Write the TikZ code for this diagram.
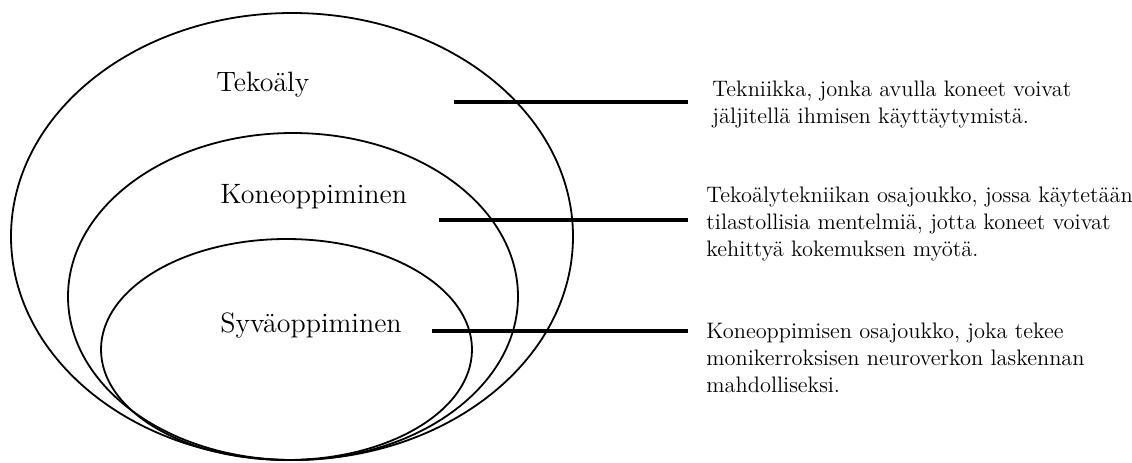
\documentclass[tikz,border=0pt]{standalone}
\usepackage{fontspec}
\usepackage{tikz}
\usetikzlibrary{positioning}
\tikzset{
    setlabel/.style={
        font=\fontsize{14}{16}\selectfont, inner sep=0pt, anchor=base west
    },
    desctext/.style={
        font=\fontsize{11.2}{13.4}\selectfont, align=left, inner sep=0pt, anchor=north west
    },
    setborder/.style={
        line width=0.9pt
    },
    guide/.style={
        line width=1.6pt
    }
}

\begin{document}
\begin{tikzpicture}[x=0.5pt, y=-0.5pt]
    \useasboundingbox (0,0) rectangle (1132,462);
    % --- sisäkkäiset joukot ---
    \draw[setborder] (292,236.5) ellipse [x radius=281, y radius=223.5];
    \draw[setborder] (293,296.5) ellipse [x radius=225, y radius=163.5];
    \draw[setborder] (286.5,349.5) ellipse [x radius=185.5, y radius=110.5];

    \node[setlabel] (tekoaly) at (216,91) {Tekoäly};
    \node[setlabel] (kone) at (220,203) {Koneoppiminen};
    \node[setlabel] (syva) at (220,332) {Syväoppiminen};

    % --- selitykset ---
    \coordinate (tekstart) at (454,102);
    \coordinate (tekend) at (688,102);
    \coordinate (konestart) at (439,220);
    \coordinate (koneend) at (688,220);
    \coordinate (syvastart) at (432,331);
    \coordinate (syvaend) at (688,331);

    \node[desctext] (tekdesc) at (712,80.5) {Tekniikka, jonka avulla koneet voivat\\jäljitellä ihmisen käyttäytymistä.};
    \node[desctext] (konedesc) at (706,186.5) {Tekoälytekniikan osajoukko, jossa käytetään\\tilastollisia mentelmiä, jotta koneet voivat\\kehittyä kokemuksen myötä.};
    \node[desctext] (syvadesc) at (706,322.5) {Koneoppimisen osajoukko, joka tekee\\monikerroksisen neuroverkon laskennan\\mahdolliseksi.};

    \draw[guide] (tekstart) -- (tekend);
    \draw[guide] (konestart) -- (koneend);
    \draw[guide] (syvastart) -- (syvaend);
\end{tikzpicture}
\end{document}
